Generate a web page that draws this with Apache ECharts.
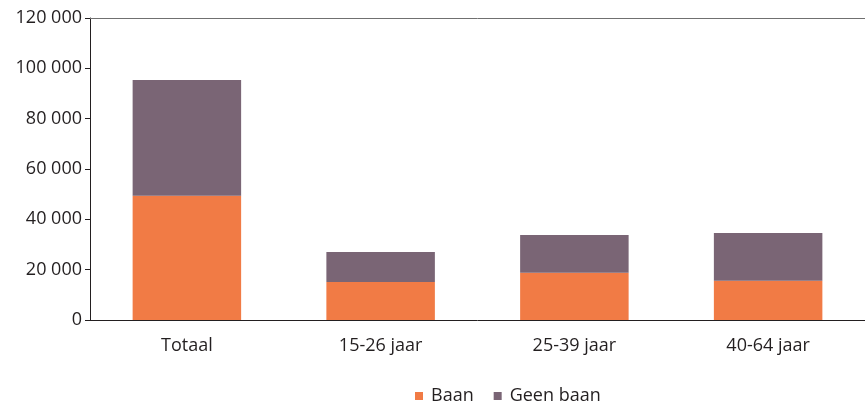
<!DOCTYPE html>
<html>
<head>
<meta charset="utf-8">
<script src="https://cdn.jsdelivr.net/npm/echarts@6/dist/echarts.min.js"></script>
<style>
html,body{margin:0;padding:0;background:#fff}
#chart{width:865px;height:402px}
</style>
</head>
<body>
<div id="chart"></div>
<script>
// categorieen en waarden
var categories = ["Totaal", "15-26 jaar", "25-39 jaar", "40-64 jaar"]
var baan = [49400, 15100, 18800, 15600]
var geenBaan = [46000, 11900, 15000, 19000]
var seriesNames = ["Baan", "Geen baan"]

var textColor = '#231f20'
var font = 'Open Sans'

function fmt(v) {
    return String(v).replace(/\B(?=(\d{3})+(?!\d))/g, ' ')
}

var chart = echarts.init(document.getElementById('chart'))
chart.setOption({
    animation: false,
    grid: { left: 90, right: 0, top: 18, bottom: 82 },
    legend: {
        top: 382,
        left: 410,
        itemWidth: 8,
        itemHeight: 8,
        itemGap: 20,
        icon: 'rect',
        textStyle: { color: textColor, fontFamily: font, fontSize: 18, padding: [0, 0, 0, 3] },
        data: seriesNames
    },
    xAxis: [
        {
            type: 'category',
            data: categories,
            axisLine: { lineStyle: { color: textColor, width: 1 } },
            axisTick: { show: false },
            axisLabel: { color: textColor, fontFamily: font, fontSize: 18, margin: 17 }
        },
        {
            // bovenrand op 120 000
            type: 'category',
            position: 'top',
            data: categories,
            axisLine: { lineStyle: { color: '#707070', width: 1 } },
            axisTick: { show: false },
            axisLabel: { show: false }
        }
    ],
    yAxis: {
        type: 'value',
        min: 0,
        max: 120000,
        interval: 20000,
        splitLine: { show: false },
        axisLine: { show: true, lineStyle: { color: textColor, width: 1 } },
        axisTick: { show: true, length: 5, lineStyle: { color: textColor } },
        axisLabel: { color: textColor, fontFamily: font, fontSize: 18, margin: 8, formatter: fmt }
    },
    series: [
        {
            name: seriesNames[0],
            type: 'bar',
            stack: 'totaal',
            barWidth: '56%',
            itemStyle: { color: '#f17b45' },
            data: baan
        },
        {
            name: seriesNames[1],
            type: 'bar',
            stack: 'totaal',
            barWidth: '56%',
            itemStyle: { color: '#7a6575' },
            data: geenBaan
        }
    ]
})
</script>
</body>
</html>
